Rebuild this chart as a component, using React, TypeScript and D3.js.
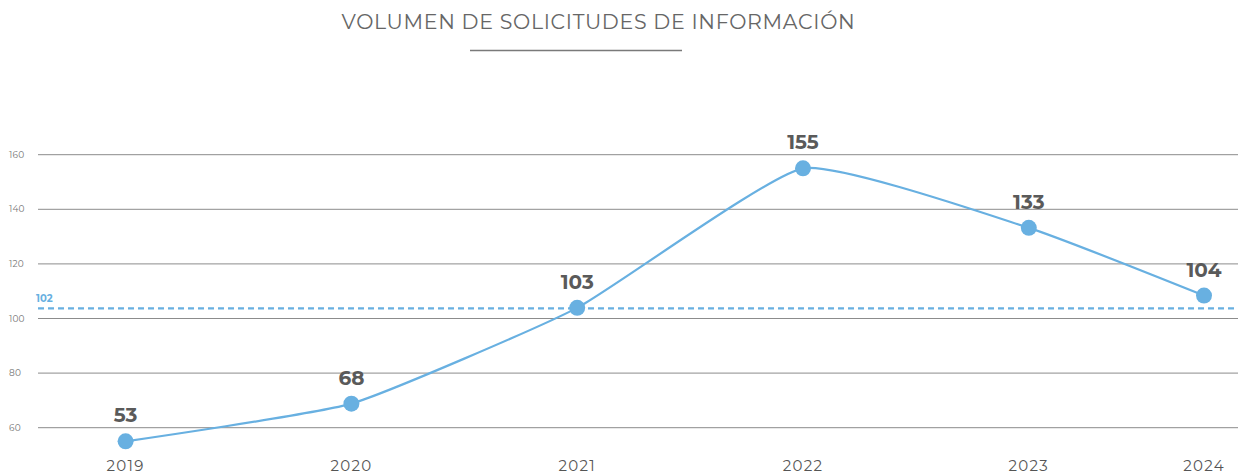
import React from "react";
import * as d3 from "d3";

const years = ["2019", "2020", "2021", "2022", "2023", "2024"];
const values = [55, 68.8, 103.9, 155, 133.2, 108.4];
const valueLabels = ["53", "68", "103", "155", "133", "104"];
const yTicks = [60, 80, 100, 120, 140, 160];
const averageValue = 103.7;
const averageLabel = "102";
const title = "VOLUMEN DE SOLICITUDES DE INFORMACIÓN";

const W = 1238;
const H = 474;

export default function App() {
  const x = d3.scalePoint<string>().domain(years).range([125.6, 1254.6]);
  const px = (yr: string) => Math.min(x(yr) as number, 1204);
  const y = d3.scaleLinear().domain([60, 160]).range([427.7, 154.7]);
  const pts: [number, number][] = years.map((yr, i) => [px(yr), y(values[i])]);
  const line = d3.line().curve(d3.curveCardinal.tension(0.55))(pts) || "";
  const font = "Montserrat, 'Open Sans', Lato, sans-serif";
  const gray = "#5a5a5a";
  const blue = "#68b0e1";
  return (
    <svg width={W} height={H} style={{ position: "absolute", left: 0, top: 0, background: "#fff" }} fontFamily={font}>
      <text x={598.5} y={29} textAnchor="middle" fontSize={20.5} fill="#666" fontWeight={400} letterSpacing={0.7}>
        {title}
      </text>
      <line x1={470} x2={682} y1={50.5} y2={50.5} stroke="#7a7a7a" strokeWidth={1.5} />
      {yTicks.map((t) => (
        <g key={t}>
          <line x1={38} x2={W} y1={y(t)} y2={y(t)} stroke="#8c8c8c" strokeWidth={1} />
          <text x={9} y={y(t) + 3} fontSize={9} fill="#777" letterSpacing={0.2}>
            {t}
          </text>
        </g>
      ))}
      <line x1={38} x2={W} y1={y(averageValue)} y2={y(averageValue)} stroke={blue} strokeWidth={2.2} strokeDasharray="6 4" />
      <text x={36} y={y(averageValue) - 6} fontSize={10} fontWeight={700} fill={blue}>
        {averageLabel}
      </text>
      <path d={line} fill="none" stroke={blue} strokeWidth={2.2} />
      {pts.map(([cx, cy], i) => (
        <g key={years[i]}>
          <circle cx={cx} cy={cy} r={8} fill={blue} />
          <text x={cx} y={cy - 19} textAnchor="middle" fontSize={20} fontWeight={700} fill={gray}>
            {valueLabels[i]}
          </text>
          <text x={cx} y={471} textAnchor="middle" fontSize={15} fill="#555" letterSpacing={1.3}>
            {years[i]}
          </text>
        </g>
      ))}
    </svg>
  );
}
